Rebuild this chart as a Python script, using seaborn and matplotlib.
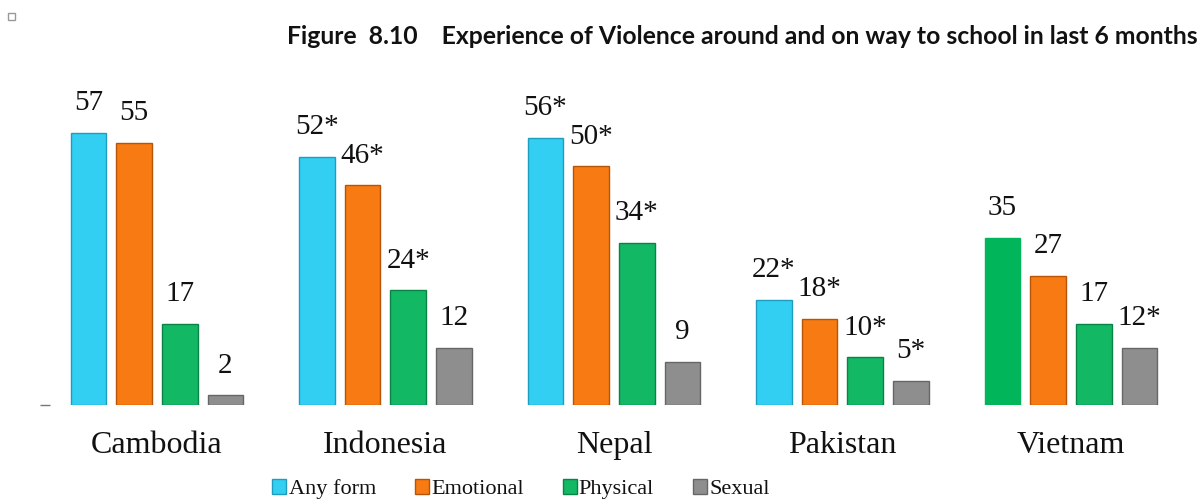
import matplotlib
matplotlib.use("Agg")
import matplotlib.pyplot as plt
import seaborn as sns
import pandas as pd
from matplotlib.patches import Rectangle

countries = ["Cambodia", "Indonesia", "Nepal", "Pakistan", "Vietnam"]
types = ["Any form", "Emotional", "Physical", "Sexual"]
any_form = [57, 52, 56, 22, 35]
emotional = [55, 46, 50, 18, 27]
physical = [17, 24, 34, 10, 17]
sexual = [2, 12, 9, 5, 12]
any_lbl = ["57", "52*", "56*", "22*", "35"]
emo_lbl = ["55", "46*", "50*", "18*", "27"]
phy_lbl = ["17", "24*", "34*", "10*", "17"]
sex_lbl = ["2", "12", "9", "5*", "12*"]
title = "Figure  8.10    Experience of Violence around and on way to school in last 6 months"

colors = {"Any form": "#33CFF3", "Emotional": "#F77B12", "Physical": "#12B864", "Sexual": "#8E8E8E"}
edges = {"Any form": "#1E9DBF", "Emotional": "#B85408", "Physical": "#0A8446", "Sexual": "#666666"}

rows = []
for vals, t in zip([any_form, emotional, physical, sexual], types):
    for c, v in zip(countries, vals):
        rows.append({"country": c, "type": t, "value": v})
df = pd.DataFrame(rows)

sns.set_theme(style="white")
plt.rcParams["font.family"] = ["Liberation Serif", "DejaVu Serif"]

fig = plt.figure(figsize=(12.03, 5.04), dpi=100)
ax = fig.add_axes([50 / 1203, 1 - 405 / 504, 1140 / 1203, 315 / 504])

sns.barplot(data=df, x="country", y="value", hue="type", hue_order=types,
            order=countries, palette=colors, width=0.8, gap=0.22,
            saturation=1, ax=ax, errorbar=None)

labels_all = [any_lbl, emo_lbl, phy_lbl, sex_lbl]
for cont, t, lbls in zip(ax.containers, types, labels_all):
    for p in cont.patches:
        p.set_edgecolor(edges[t])
        p.set_linewidth(1.0)
    ax.bar_label(cont, labels=lbls, padding=12, fontsize=21, color="#111111")

# Vietnam "Any form" bar is shown as a flat green block in the reference
vb = ax.containers[0].patches[4]
vb.set_facecolor("#00B55A")
vb.set_edgecolor("#00B55A")

ax.set_xlim(-0.468, 4.521)
ax.set_ylim(0, 66)
ax.set_xlabel("")
ax.set_ylabel("")
for s in ax.spines.values():
    s.set_visible(False)
ax.set_yticks([0])
ax.set_yticklabels([""])
ax.tick_params(axis="y", left=True, length=7, width=1, color="#777777")
ax.tick_params(axis="x", bottom=False, labelsize=23, pad=13)
for tl in ax.get_xticklabels():
    tl.set_color("#111111")

handles, labs = ax.get_legend_handles_labels()
ax.get_legend().remove()
for h, t in zip(handles, types):
    h.set_edgecolor(edges[t])
leg = fig.legend(handles, labs, loc="center", bbox_to_anchor=(521 / 1203, 1 - 489 / 504),
                 ncol=4, frameon=False, fontsize=16, handlelength=0.63, handleheight=0.63,
                 handletextpad=0.1, columnspacing=1.75, borderaxespad=0)
for t in leg.get_texts():
    t.set_color("#111111")

fig.text(1198 / 1203, 1 - 37 / 504, title, ha="right", va="center",
         fontsize=17.8, fontweight="bold", family=["Lato", "DejaVu Sans"], color="#111111")

fig.patches.append(Rectangle((8 / 1203, 1 - 20 / 504), 7 / 1203, 7 / 504,
                             transform=fig.transFigure, fill=False, edgecolor="#999999", lw=1))

fig.savefig("out.png", dpi=100)
